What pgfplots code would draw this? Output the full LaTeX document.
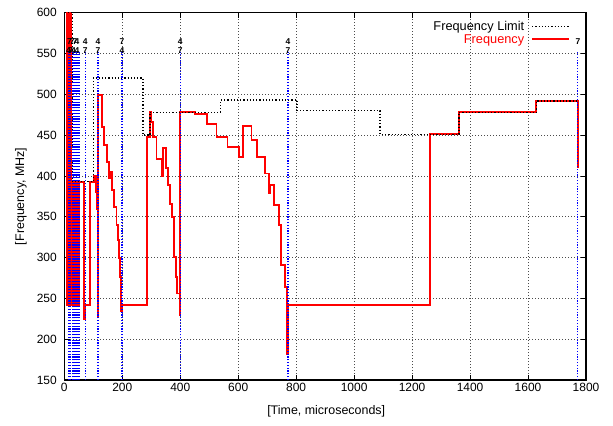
\documentclass[border=0pt]{standalone}
\usepackage{pgfplots}
\pgfplotsset{compat=1.18}
\usepackage{fontspec}
\setmainfont{Liberation Sans}

\begin{document}
\begin{tikzpicture}[font=\fontsize{12}{14}\selectfont]
\useasboundingbox (-64.3bp,-46bp) rectangle (548.7bp,380bp);
\begin{axis}[
    at={(0,0)}, anchor=south west,
    scale only axis,
    width=521.7bp, height=367.3bp,
    xmin=0, xmax=1800,
    ymin=150, ymax=600,
    xtick={0,200,...,1800},
    ytick={150,200,...,600},
    /pgf/number format/assume math mode=true,
    /pgf/number format/set thousands separator={},
    tick align=inside,
    major tick length=5.5bp,
    tick style={black, line width=0.8bp},
    axis line style={black, line width=1.2bp},
    grid=major,
    grid style={black!70, dash pattern=on 1bp off 2bp, line width=0.6bp},
    yticklabel style={xshift=-4bp},
    xlabel={[Time, microseconds]},
    ylabel={[Frequency, MHz]},
    xlabel style={at={(axis description cs:0.502,-0.084)}, anchor=center, font=\fontsize{12.5}{14}\selectfont},
    ylabel style={at={(axis description cs:-0.083,0.5)}, anchor=center, font=\fontsize{12.5}{14}\selectfont},
    legend style={draw=none, fill=none, at={(axis description cs:0.972,0.986)}, anchor=north east,
        font=\fontsize{12.8}{14}\selectfont, row sep=-1.5bp, column sep=5bp, inner sep=1bp},
    legend cell align=right,
    legend plot pos=right,
    reverse legend,
]
% frequency (step corners)
\addplot[red, line width=1.9bp,
  legend image code/.code={\draw[red, line width=2bp] (0bp,0bp) -- (37bp,0bp);}]
  coordinates {
    (8,600) (9.5,600) (9.5,242) (10.5,242) (10.5,600) (11.5,600) (11.5,393)
    (12.5,393) (12.5,242) (13.5,242) (13.5,600) (14.5,600) (14.5,393) (15.5,393)
    (15.5,242) (16.5,242) (16.5,600) (17.5,600) (17.5,242) (18.5,242) (18.5,600)
    (19.5,600) (19.5,393) (20.5,393) (20.5,242) (21.5,242) (21.5,600) (22.5,600)
    (22.5,242) (23.5,242) (23.5,393) (24.5,393) (24.5,242) (25.5,242) (25.5,393)
    (26.5,393) (26.5,242) (27.5,242) (27.5,393) (29,393) (29,242) (30,242)
    (30,393) (32,393) (32,242) (33,242) (33,393) (35,393) (35,242) (36,242)
    (36,393) (39,393) (39,242) (40,242) (40,393) (44,393) (44,242) (45,242)
    (45,393) (49,393) (49,242) (50,242) (50,393) (68,393) (68,225) (70,225)
    (70,242) (90,242) (90,393) (101,393) (101,400) (108,400) (108,380) (112,380)
    (112,360) (115,360) (115,228) (116,228) (116,499) (129,499) (129,460)
    (138,460) (138,438) (146,438) (146,417) (153,417) (153,397) (159,397)
    (159,405) (166,405) (166,383) (172,383) (172,362) (180,362) (180,340)
    (186,340) (186,322) (189,322) (189,299) (192,299) (192,276) (195,276)
    (195,234) (198,234) (198,242) (284,242) (284,448) (296,448) (296,478)
    (300,478) (300,466) (306,466) (306,448) (318,448) (318,421) (338,421)
    (338,400) (341,400) (341,434) (350,434) (350,410) (357,410) (357,389)
    (364,389) (364,366) (372,366) (372,350) (378,350) (378,301) (384,301)
    (384,276) (390,276) (390,256) (400,256) (400,229) (400.5,229) (400.5,478)
    (451,478) (451,476) (491,476) (491,464) (525,464) (525,448) (563,448)
    (563,436) (603,436) (603,423) (617,423) (617,461) (646,461) (646,444)
    (665,444) (665,423) (692,423) (692,403) (707,403) (707,379) (709,379)
    (709,389) (723,389) (723,364) (740,364) (740,340) (749,340) (749,291)
    (761,291) (761,264) (769,264) (769,182) (771,182) (771,242) (1261,242)
    (1261,451) (1362,451) (1362,478) (1629,478) (1629,492) (1772,492) (1772,410)
  };
\addlegendentry{\textcolor{red}{Frequency}}

% frequency limit (step corners)
\addplot[black, dash pattern=on 1.2bp off 2bp, line width=1.5bp,
  legend image code/.code={\draw[black, dash pattern=on 1.2bp off 2bp, line width=1.5bp] (0bp,0bp) -- (37bp,0bp);}]
  coordinates {
    (0,600) (28,600) (28,393) (100,393) (100,520) (271,520) (271,450) (296,450)
    (296,478) (539,478) (539,493) (803,493) (803,480) (1090,480) (1090,451)
    (1362,451) (1362,478) (1629,478) (1629,492) (1772,492)
  };
\addlegendentry{Frequency Limit}

% event markers
\foreach \t in {14,18,22,27,32,37,44,51,72,116,199,400,772,1772} {
  \edef\temp{\noexpand\addplot[forget plot, blue, dash pattern=on 1.3bp off 1.5bp, line width=1.2bp]
    coordinates {(\t,150) (\t,552)};}
  \temp
}

\begin{scope}[every node/.style={font=\fontsize{8.5}{9}\selectfont\bfseries, inner sep=0pt}]
\node at (axis cs:18,564) {7};
\node at (axis cs:27,564) {7};
\node at (axis cs:37,564) {7};
\node at (axis cs:44,564) {4};
\node at (axis cs:72,564) {4};
\node at (axis cs:116,564) {4};
\node at (axis cs:199,564) {7};
\node at (axis cs:400,564) {4};
\node at (axis cs:772,564) {4};
\node at (axis cs:1772,564) {7};
\node at (axis cs:14,553) {4};
\node at (axis cs:22,553) {7};
\node at (axis cs:32,553) {4};
\node at (axis cs:44,553) {4};
\node at (axis cs:72,553) {7};
\node at (axis cs:116,553) {7};
\node at (axis cs:199,553) {4};
\node at (axis cs:400,553) {7};
\node at (axis cs:772,553) {7};
\end{scope}
\end{axis}
\end{tikzpicture}
\end{document}
